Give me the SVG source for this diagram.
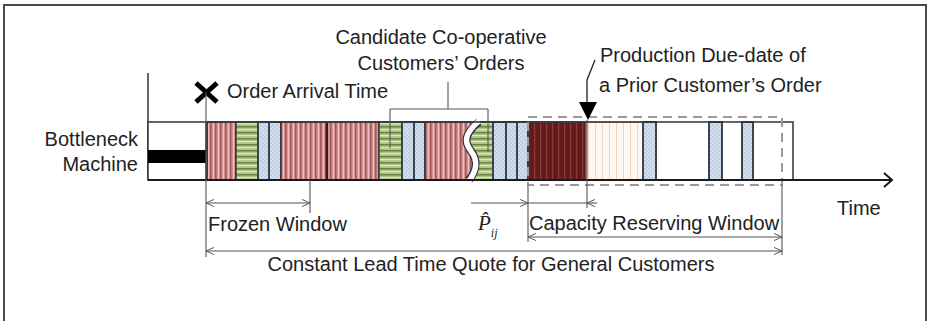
<svg xmlns="http://www.w3.org/2000/svg" width="927" height="321" viewBox="0 0 927 321">
<style>
text{font-family:"Liberation Sans",Arial,sans-serif;font-size:20px;fill:#222}
.dim{fill:none;stroke:#555;stroke-width:1.1}
.blk{stroke:#3a3a3a;stroke-width:1.5}
.blu{fill:url(#pBlue);stroke:#3c4450;stroke-width:2}
</style>
<defs>
<pattern id="pRed" patternUnits="userSpaceOnUse" width="5" height="10"><rect width="5" height="10" fill="#d39393"/><rect x="0" width="1.5" height="10" fill="#a65656"/><rect x="3" width="1" height="10" fill="#ecc0c0"/></pattern>
<pattern id="pGreen" patternUnits="userSpaceOnUse" width="10" height="6"><rect width="10" height="6" fill="#aec284"/><rect y="0" width="10" height="1.5" fill="#6c8544"/><rect y="3.2" width="10" height="1" fill="#e8f1d4"/></pattern>
<pattern id="pBlue" patternUnits="userSpaceOnUse" width="4" height="4"><rect width="4" height="4" fill="#d2dfee"/><circle cx="1" cy="1" r="0.7" fill="#9fb2c8"/><circle cx="3" cy="3" r="0.7" fill="#9fb2c8"/></pattern>
<pattern id="pDark" patternUnits="userSpaceOnUse" width="6" height="10"><rect width="6" height="10" fill="#621b1b"/><rect width="1.2" height="10" fill="#8c3a3a"/></pattern>
<pattern id="pPeach" patternUnits="userSpaceOnUse" width="7" height="10"><rect width="7" height="10" fill="#fff8f2"/><rect width="1" height="10" fill="#f5d4bf"/></pattern>
<marker id="arr" viewBox="0 0 10 10" refX="10" refY="5" markerWidth="8" markerHeight="8" markerUnits="userSpaceOnUse" orient="auto-start-reverse"><path d="M0,0.5 L10,5 L0,9.5" fill="none" stroke="#555" stroke-width="1.2"/></marker>
</defs>

<rect x="4" y="5" width="922" height="330" fill="#fff" stroke="#4a4a4a" stroke-width="2"/>

<g id="machine">
<text x="138" y="146" text-anchor="end">Bottleneck</text>
<text x="138" y="171" text-anchor="end">Machine</text>
<line x1="148" y1="73" x2="148" y2="180" stroke="#333" stroke-width="1.5"/>
<rect x="148" y="122" width="58" height="58" fill="#fff" stroke="#333" stroke-width="1.5"/>
<rect x="148" y="150" width="58" height="13" fill="#000"/>
</g>

<g id="bar">
<rect x="207" y="122" width="29" height="58" fill="url(#pRed)" class="blk"/>
<rect x="236" y="122" width="22" height="58" fill="url(#pGreen)" class="blk"/>
<rect x="258" y="122" width="11" height="58" class="blu"/>
<rect x="269" y="122" width="12" height="58" class="blu"/>
<rect x="281" y="122" width="46" height="58" fill="url(#pRed)" class="blk"/>
<rect x="327" y="122" width="52" height="58" fill="url(#pRed)" class="blk"/>
<line x1="327" y1="122" x2="327" y2="180" stroke="#3a1c1c" stroke-width="2.5"/>
<rect x="379" y="122" width="23" height="58" fill="url(#pGreen)" class="blk"/>
<rect x="402" y="122" width="12" height="58" class="blu"/>
<rect x="414" y="122" width="11" height="58" class="blu"/>
<rect x="462" y="122" width="31" height="58" fill="url(#pGreen)" class="blk"/>
<path d="M425,122 H479 C464,134 464,142 471,151 C479,162 476,171 469,180 H425 Z" fill="url(#pRed)"/>
<rect x="425" y="122" width="68" height="58" fill="none" class="blk"/>
<path d="M479,122 C464,134 464,142 471,151 C479,162 476,171 469,180" fill="none" stroke="#333" stroke-width="8"/>
<path d="M479,121 C464,134 464,142 471,151 C479,162 476,171 469,181" fill="none" stroke="#fff" stroke-width="5.5"/>
<rect x="493" y="122" width="13" height="58" class="blu"/>
<rect x="506" y="122" width="11" height="58" class="blu"/>
<rect x="517" y="122" width="11" height="58" class="blu"/>
<rect x="528" y="122" width="58" height="58" fill="url(#pDark)" class="blk"/>
<rect x="586" y="122" width="57" height="58" fill="url(#pPeach)" stroke="#777" stroke-width="1"/>
<rect x="643" y="122" width="13" height="58" class="blu"/>
<rect x="709" y="122" width="13" height="58" class="blu"/>
<rect x="742" y="122" width="11" height="58" class="blu"/>
<rect x="207" y="122" width="586" height="58" fill="none" stroke="#333" stroke-width="1.5"/>
</g>

<g id="reserve-window">
<rect x="528" y="117" width="254" height="68" fill="none" stroke="#9a9a9a" stroke-width="2" stroke-dasharray="9 6"/>
</g>

<g id="time-axis">
<line x1="148" y1="180" x2="891" y2="180" stroke="#1a1a1a" stroke-width="2"/>
<path d="M884,173 L892,180 L884,187" fill="none" stroke="#1a1a1a" stroke-width="2"/>
<text x="837" y="215">Time</text>
</g>

<g id="arrival">
<path d="M196,83 L217,102 M217,83 L196,102" stroke="#000" stroke-width="5"/>
<text x="227" y="98">Order Arrival Time</text>
</g>

<g id="candidates">
<text x="441" y="44" text-anchor="middle">Candidate Co-operative</text>
<text x="441" y="70" text-anchor="middle">Customers’ Orders</text>
</g>

<g id="due-date">
<text x="600" y="62">Production Due-date of</text>
<text x="599" y="92">a Prior Customer’s Order</text>
<path d="M579,102 L597,102 L588,120 Z" fill="#000"/>
</g>

<g id="connectors">
<path class="dim" d="M448,82 V109 M390,109 H488 M390,109 V148 M488,109 V152"/>
<path d="M595,60 L587,80 V102" fill="none" stroke="#222" stroke-width="1.3"/>
<path class="dim" d="M587,120 V208"/>
<path class="dim" d="M206,92 V257"/>
<path class="dim" d="M310,180 V213"/>
<path class="dim" d="M528,185 V242"/>
<path class="dim" d="M782,185 V255"/>
<path class="dim" d="M206,203 H310" marker-start="url(#arr)" marker-end="url(#arr)"/>
<path class="dim" d="M528,237 H782" marker-start="url(#arr)" marker-end="url(#arr)"/>
<path class="dim" d="M206,251 H782" marker-start="url(#arr)" marker-end="url(#arr)"/>
<path class="dim" d="M471,203 H528" marker-end="url(#arr)"/>
<path class="dim" d="M528,203 H587"/>
<path class="dim" d="M597,203 H587" marker-end="url(#arr)"/>
</g>

<g id="labels">
<text x="208" y="231">Frozen Window</text>
<text x="529" y="230">Capacity Reserving Window</text>
<text x="491" y="271" text-anchor="middle">Constant Lead Time Quote for General Customers</text>
<text x="478" y="230" style="font-family:'Liberation Serif',serif;font-style:italic;font-size:21px">P̂<tspan dy="7" style="font-size:12px">ij</tspan></text>
</g>
</svg>
